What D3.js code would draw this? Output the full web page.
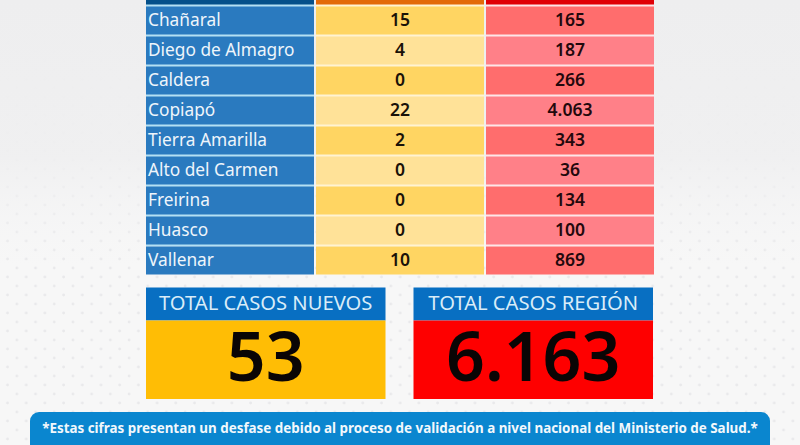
<!DOCTYPE html>
<html>
<head>
<meta charset="utf-8">
<script src="https://cdnjs.cloudflare.com/ajax/libs/d3/7.8.5/d3.min.js"></script>
<style>
  html, body { margin: 0; padding: 0; background: #f7f7f7; }
  svg { display: block; }
  text { font-family: "Noto Sans", "Open Sans", sans-serif; }
</style>
</head>
<body>
<svg id="chart"></svg>
<script>
// Datos
const comunas = ["Chañaral", "Diego de Almagro", "Caldera", "Copiapó", "Tierra Amarilla", "Alto del Carmen", "Freirina", "Huasco", "Vallenar"];
const casosNuevos = [15, 4, 0, 22, 2, 0, 0, 0, 10];
const casosTotales = [165, 187, 266, 4063, 343, 36, 134, 100, 869];
const totalTitulos = ["TOTAL CASOS NUEVOS", "TOTAL CASOS REGIÓN"];
const totalValores = [53, 6163];
const nota = "*Estas cifras presentan un desfase debido al proceso de validación a nivel nacional del Ministerio de Salud.*";

const width = 800;
const height = 445;

const svg = d3.select("#chart")
    .attr("width", width)
    .attr("height", height);

// Formato chileno: punto para miles
const fmt = d3.formatLocale({ decimal: ",", thousands: ".", grouping: [3], currency: ["$", ""] }).format(",d");

// Fondo con puntos
const defs = svg.append("defs");
const pattern = defs.append("pattern")
    .attr("id", "puntos")
    .attr("width", 18.7)
    .attr("height", 18)
    .attr("patternUnits", "userSpaceOnUse");
pattern.append("circle").attr("cx", 7.5).attr("cy", 7).attr("r", 1.4).attr("fill", "#e9e9eb");
pattern.append("circle").attr("cx", 16.85).attr("cy", 16).attr("r", 1.4).attr("fill", "#e9e9eb");

const sombra = defs.append("linearGradient")
    .attr("id", "sombra")
    .attr("x1", 0).attr("y1", 0)
    .attr("x2", 0).attr("y2", 1);
sombra.append("stop").attr("offset", "0").attr("stop-color", "#eeeeef").attr("stop-opacity", 1);
sombra.append("stop").attr("offset", "0.35").attr("stop-color", "#efeff0").attr("stop-opacity", 0.9);
sombra.append("stop").attr("offset", "0.6").attr("stop-color", "#f4f4f5").attr("stop-opacity", 0);

svg.append("rect").attr("width", width).attr("height", height).attr("fill", "#f7f7f7");
svg.append("rect").attr("width", width).attr("height", height).attr("fill", "url(#puntos)");
svg.append("rect").attr("width", width).attr("height", height).attr("fill", "url(#sombra)");

// Escalas
const yScale = d3.scaleBand()
    .domain(["header", ...comunas])
    .range([-23.5, 274.5])
    .paddingInner(2 / 30);

const xScale = d3.scaleBand()
    .domain(["comuna", "nuevos", "totales"])
    .range([146, 654])
    .paddingInner(2 / 170);

const totalX = d3.scaleBand()
    .domain(totalTitulos)
    .range([146, 653])
    .paddingInner(28 / 267.5);

// Color de las lineas entre filas
const gapColors = { comuna: "#b4e0f3", nuevos: "#fff3d2", totales: "#fde6e8" };
svg.selectAll(".columna")
    .data(xScale.domain())
    .enter()
    .append("rect")
    .attr("class", "columna")
    .attr("x", d => xScale(d))
    .attr("y", yScale("header"))
    .attr("width", xScale.bandwidth())
    .attr("height", yScale("Vallenar") - yScale("header"))
    .attr("fill", d => gapColors[d]);

// Cabecera (cortada en el borde superior)
const headerColors = { comuna: "#04508a", nuevos: "#e36a08", totales: "#e00006" };
svg.selectAll(".header")
    .data(xScale.domain())
    .enter()
    .append("rect")
    .attr("class", "header")
    .attr("x", d => xScale(d))
    .attr("y", yScale("header"))
    .attr("width", xScale.bandwidth())
    .attr("height", yScale.bandwidth())
    .attr("fill", d => headerColors[d]);

// Filas
const filas = svg.selectAll(".fila")
    .data(comunas)
    .enter()
    .append("g")
    .attr("class", "fila")
    .attr("transform", d => `translate(0, ${yScale(d)})`);

const rowMid = yScale.bandwidth() / 2 - 0.5;

filas.append("rect")
    .attr("x", xScale("comuna"))
    .attr("width", xScale.bandwidth())
    .attr("height", yScale.bandwidth())
    .attr("fill", "#2a7abf");

filas.append("rect")
    .attr("x", xScale("nuevos"))
    .attr("width", xScale.bandwidth())
    .attr("height", yScale.bandwidth())
    .attr("fill", (d, i) => i % 2 ? "#ffe298" : "#ffd562");

filas.append("rect")
    .attr("x", xScale("totales"))
    .attr("width", xScale.bandwidth())
    .attr("height", yScale.bandwidth())
    .attr("fill", (d, i) => i % 2 ? "#ff8088" : "#ff6d6d");

filas.append("text")
    .attr("x", xScale("comuna") + 2)
    .attr("y", rowMid)
    .attr("dy", "0.34em")
    .attr("font-size", 17.3)
    .attr("fill", "#eef5fb")
    .text(d => d);

filas.append("text")
    .attr("x", xScale("nuevos") + xScale.bandwidth() / 2)
    .attr("y", rowMid)
    .attr("dy", "0.34em")
    .attr("text-anchor", "middle")
    .attr("font-size", 17.5)
    .attr("font-weight", 600)
    .attr("fill", "#1a1208")
    .text((d, i) => fmt(casosNuevos[i]));

filas.append("text")
    .attr("x", xScale("totales") + xScale.bandwidth() / 2)
    .attr("y", rowMid)
    .attr("dy", "0.34em")
    .attr("text-anchor", "middle")
    .attr("font-size", 17.5)
    .attr("font-weight", 600)
    .attr("fill", "#22080c")
    .text((d, i) => fmt(casosTotales[i]));

// Cajas de totales
const totalFill = ["#ffbd05", "#fe0000"];
const totales = svg.selectAll(".total")
    .data(totalTitulos)
    .enter()
    .append("g")
    .attr("class", "total")
    .attr("transform", d => `translate(${totalX(d)}, 287.5)`);

totales.append("rect")
    .attr("width", totalX.bandwidth())
    .attr("height", 33)
    .attr("fill", "#086fc2");

totales.append("rect")
    .attr("y", 33)
    .attr("width", totalX.bandwidth())
    .attr("height", 78.5)
    .attr("fill", (d, i) => totalFill[i]);

totales.append("text")
    .attr("x", totalX.bandwidth() / 2)
    .attr("y", 16)
    .attr("dy", "0.34em")
    .attr("text-anchor", "middle")
    .attr("font-size", 20.2)
    .attr("fill", "#d8ecf8")
    .text(d => d);

totales.append("text")
    .attr("x", totalX.bandwidth() / 2)
    .attr("y", 69.5)
    .attr("dy", "0.36em")
    .attr("text-anchor", "middle")
    .attr("font-size", 68)
    .attr("font-weight", 600)
    .attr("fill", "#0a0505")
    .text((d, i) => fmt(totalValores[i]));

// Nota
svg.append("rect")
    .attr("x", 30)
    .attr("y", 412)
    .attr("width", 740)
    .attr("height", 50)
    .attr("rx", 9)
    .attr("fill", "#0a86cf");

svg.append("text")
    .attr("x", 400)
    .attr("y", 428)
    .attr("dy", "0.36em")
    .attr("text-anchor", "middle")
    .attr("font-size", 13.4)
    .attr("font-weight", 700)
    .attr("fill", "#f2f8fc")
    .text(nota);
</script>
</body>
</html>
